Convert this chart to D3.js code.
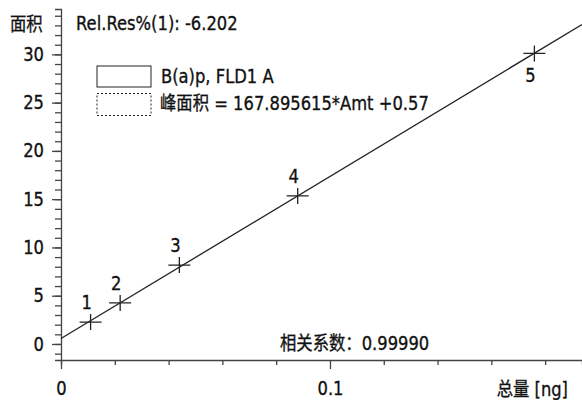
<!DOCTYPE html>
<html>
<head>
<meta charset="utf-8">
<script src="https://cdn.jsdelivr.net/npm/d3@7"></script>
<style>
  body { margin: 0; background: #fff; }
  svg text { font-family: "DejaVu Sans", "Noto Sans CJK SC", sans-serif; fill: #111; stroke: #111; stroke-width: 0.35px; }
</style>
</head>
<body>
<svg id="chart" width="582" height="400"></svg>
<script>
// calibration points
const amounts = [0.011, 0.022, 0.044, 0.088, 0.176];
const areas = [2.27, 4.25, 8.17, 15.34, 30.1];
const pointLabels = ["1", "2", "3", "4", "5"];
const slope = 167.895615, intercept = 0.57;

const yMajor = [0, 5, 10, 15, 20, 25, 30];
const yMinor = d3.range(-1, 35);
const xMajor = [0, 0.1];
const xMinor = [0.02, 0.04, 0.06, 0.08, 0.12, 0.14, 0.16, 0.18];

const legendLines = ["B(a)p, FLD1 A", "峰面积 = 167.895615*Amt +0.57"];

const svg = d3.select("#chart");
const axisColor = "#444";
const fs = 19;

let x = d3.scaleLinear().domain([0, 0.1937]).range([61, 582]);
let y = d3.scaleLinear().domain([-1.66, 34.7]).range([360, 9]);

// y axis
const gy = svg.append("g").attr("transform", "translate(61,0)");
gy.call(d3.axisLeft(y).tickValues(yMinor).tickSize(6).tickFormat(""));
gy.append("g").call(d3.axisLeft(y).tickValues(yMajor).tickSize(9).tickPadding(8).tickFormat(d3.format("d")));
gy.selectAll("text").attr("font-size", fs).attr("fill", "#111");

// x axis
const gx = svg.append("g").attr("transform", "translate(0,360)");
gx.call(d3.axisBottom(x).tickValues(xMinor).tickSize(5).tickFormat(""));
gx.append("g").call(d3.axisBottom(x).tickValues(xMajor).tickSize(9).tickPadding(13).tickFormat(d => d === 0 ? "0" : d3.format(".1f")(d)));
gx.selectAll("text").attr("font-size", fs).attr("fill", "#111");

svg.selectAll(".domain, .tick line").attr("stroke", axisColor).attr("stroke-width", 1.3);
svg.selectAll("g > g .domain").remove();

// axis titles
svg.append("text").attr("x", 10).attr("y", 31).attr("font-size", fs).text("面积");
svg.append("text").attr("x", 568).attr("y", 396).attr("text-anchor", "end").attr("font-size", fs).text("总量 [ng]");
svg.append("text").attr("x", 76).attr("y", 30).attr("font-size", fs).text("Rel.Res%(1): -6.202");
svg.append("text").attr("x", 280).attr("y", 350).attr("font-size", fs).text("相关系数：0.99990");

// regression line
const x0 = x.domain()[0], x1 = x.domain()[1];
svg.append("line")
  .attr("x1", x(x0)).attr("y1", y(slope * x0 + intercept))
  .attr("x2", x(x1)).attr("y2", y(slope * x1 + intercept))
  .attr("stroke", "#222").attr("stroke-width", 1.3);

// points as crosses
const pts = svg.append("g").selectAll("g")
  .data(amounts.map((a, i) => ({a: a, v: areas[i], label: pointLabels[i]})))
  .join("g")
    .attr("transform", d => `translate(${x(d.a)},${y(d.v)})`);

pts.append("path")
  .attr("d", "M-11,0H11M0,-8V8")
  .attr("stroke", "#222").attr("stroke-width", 1.3);

pts.append("text")
  .attr("x", -4)
  .attr("y", (d, i) => i === 4 ? 29 : -13)
  .attr("text-anchor", "middle")
  .attr("font-size", fs)
  .text(d => d.label);

// legend
svg.append("rect").attr("x", 97).attr("y", 66).attr("width", 54).attr("height", 21)
  .attr("fill", "none").attr("stroke", "#222").attr("stroke-width", 1);
svg.append("rect").attr("x", 97).attr("y", 93.5).attr("width", 54).attr("height", 22)
  .attr("fill", "none").attr("stroke", "#222").attr("stroke-width", 1).attr("stroke-dasharray", "2,2");

svg.selectAll(".legend-text")
  .data(legendLines)
  .join("text")
    .attr("class", "legend-text")
    .attr("x", (d, i) => i === 0 ? 161 : 160)
    .attr("y", (d, i) => i === 0 ? 83 : 110)
    .attr("font-size", fs)
    .text(d => d);

// squeeze all text to look like the condensed face of the original
svg.selectAll("text").each(function() {
  const len = this.getComputedTextLength();
  if (len > 0) {
    d3.select(this).attr("textLength", len * 0.86).attr("lengthAdjust", "spacingAndGlyphs");
  }
});
</script>
</body>
</html>
